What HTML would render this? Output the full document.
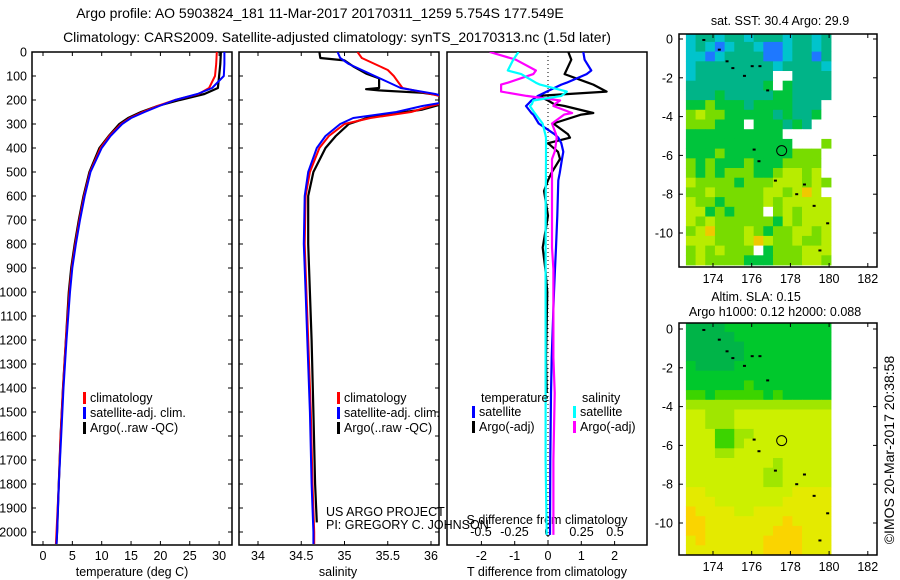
<!DOCTYPE html>
<html><head><meta charset="utf-8"><style>
body{margin:0;background:#fff;}
svg{display:block;font-family:"Liberation Sans",sans-serif;}
text{font-size:12.5px;fill:#000;}
text.big{font-size:14px;}
</style></head><body>
<svg id="fig" width="900" height="580" viewBox="0 0 900 580">
<rect width="900" height="580" fill="#fff"/>
<text class="big" x="320" y="18" text-anchor="middle">Argo profile: AO 5903824_181 11-Mar-2017 20170311_1259 5.754S 177.549E</text>
<text class="big" x="337" y="42" text-anchor="middle">Climatology: CARS2009. Satellite-adjusted climatology: synTS_20170313.nc (1.5d later)</text>
<g id="p1"></g>
<g id="p2"></g>
<g id="p3"></g>
<g id="m1"></g>
<g id="m2"></g>
<text x="780" y="25" text-anchor="middle">sat. SST: 30.4 Argo: 29.9</text>
<text x="756" y="301" text-anchor="middle">Altim. SLA: 0.15</text>
<text x="775" y="316" text-anchor="middle">Argo h1000: 0.12 h2000: 0.088</text>
<text class="big" transform="translate(894,450) rotate(-90)" text-anchor="middle">©IMOS 20-Mar-2017 20:38:58</text>
<text x="326" y="516">US ARGO PROJECT</text>
<text x="326" y="529">PI: GREGORY C. JOHNSON</text>
</svg>
<script>
// ---- data ----
const depthT=[0,50,100,150,175,200,225,250,275,300,350,400,500,600,700,800,900,1000,1200,1400,1600,1800,2000,2050];
const tClim=[29.6,29.5,29.3,28.3,26.5,22.5,19.5,17.0,14.8,13.3,11.3,9.8,8.0,7.0,6.2,5.5,4.9,4.5,3.9,3.4,3.0,2.7,2.3,2.2];
const tSat=[30.9,30.9,30.8,28.8,26.3,22.5,19.8,17.3,15.0,13.5,11.5,10.0,8.1,7.1,6.3,5.6,5.0,4.6,4.0,3.5,3.1,2.7,2.4,2.3];
const tArgo=[30.3,30.2,30.0,29.8,27.5,23.3,19.5,16.7,14.5,13.0,11.2,9.6,7.9,6.9,6.1,5.4,4.8,4.4,3.9,3.4,3.0,2.7,2.4,2.3];
const depthS=[0,25,50,75,100,125,150,175,200,225,250,275,300,350,400,500,600,800,1000,1200,1500,1800,2000,2050];
const sClim=[35.15,35.2,35.35,35.5,35.57,35.62,35.67,36.0,36.3,36.0,35.77,35.3,35.0,34.82,34.71,34.6,34.55,34.54,34.56,34.58,34.61,34.63,34.65,34.65];
const sSat=[34.92,34.95,35.05,35.2,35.35,35.5,35.65,36.05,36.3,35.9,35.6,35.1,34.95,34.78,34.68,34.58,34.54,34.53,34.55,34.57,34.6,34.62,34.64,34.64];
const depthArgoS=[0,25,35,60,90,110,150,155,160,170,190,210,240,270,300,350,400,500,600,800,1000,1200,1500,1800,1960];
const sArgo=[34.71,34.72,35.0,35.1,35.25,35.4,35.4,35.25,35.4,35.9,36.3,36.2,35.9,35.3,35.05,34.9,34.78,34.64,34.58,34.58,34.6,34.62,34.64,34.66,34.68];
const depthD=[0,32,77,92,128,136,165,183,202,217,225,254,261,298,343,357,380,416,446,505,535,579,682,815,904,1000,1273,1421,1700,2012];
const dTSat=[1.06,1.1,1.3,1.16,0.56,0.4,-0.04,-0.3,-0.5,-0.6,-0.66,-0.5,-0.44,-0.28,0.2,0.31,0.4,0.46,0.42,0.35,0.31,0.3,0.28,0.24,0.21,0.18,0.11,0.09,0.07,0.06];
const dTArgo=[0.61,0.7,0.55,0.5,1.2,1.36,1.76,-0.29,0.0,0.18,0.5,1.36,1.0,0.16,0.6,0.66,0.0,0.3,0.36,0.1,0.0,-0.12,0.0,-0.16,-0.08,-0.02,-0.06,-0.04,null,null];
const dSSat=[-0.22,-0.26,-0.3,-0.2,-0.09,-0.06,0.14,0.1,-0.11,-0.12,-0.135,-0.1,-0.09,-0.04,-0.02,-0.015,-0.015,-0.015,-0.015,-0.016,-0.016,-0.017,-0.017,-0.018,-0.018,-0.018,-0.018,-0.018,-0.018,-0.01];
const dSArgo=[-0.435,-0.24,-0.09,-0.11,-0.3,-0.35,-0.35,-0.16,0.09,0.05,0.04,0.18,0.12,0.03,0.06,0.065,0.06,0.05,0.03,0.03,0.03,0.03,0.03,0.03,0.04,0.04,0.04,0.05,0.04,0.04];
const tTicks=[0,5,10,15,20,25,30];
const sTicks=[34,34.5,35,35.5,36];
const dTTicks=[-2,-1,0,1,2];
const dSTicks=[-0.5,-0.25,0,0.25,0.5];
const depthTicks=[0,100,200,300,400,500,600,700,800,900,1000,1100,1200,1300,1400,1500,1600,1700,1800,1900,2000];
const lonTicks=[174,176,178,180,182];
const latTicks=[0,-2,-4,-6,-8,-10];
const sstGrid=[
"cttcttctttcttct","ctcbcttcbbcttct","ccbcttttbbcttbt","cttttttttcttttc","cttttttttwwtttt",
"ttttttttgwgtttt","tttgtttttggtttt","gglgggtggggtttw","lyllgggggtgttgw","lllgggwgggtgtww",
"ggggggggggwwwww","gggggggggggwwwl","ggglggggggglllw","lglggglgggllllw","lglglllgglyylyw",
"yllllglllyyylyl","llylllllyylyoyw","yllgllllylyyyyy","yyglglllwlylyyy","ylyllllllgylyyy",
"lyolllylgllyyly","yyylllyoyllylly","lylylllwglllyyy","lyllllggglllyyl"];
const slaGrid=[
"DDDDGGGGGGGGGGG","DDDDDGGGGGGGGGG","DDDDDDGGGGGGGGG","DDDDDDGGGGGGGGG","GDDDDGGGGGGGGGG",
"GGGGGGGGGGGGGGG","GGGGGGHGGGGGGGG","HHGHHHHHGHGGGGG","LLLLLLLLLLLLLLL","YYLLLYYYYYYYYYY",
"YYLLLYYYYYYYYYY","YYYHHLLYYYYYYYY","YYYHHLYYYYYYYYY","YYYLLYYYYYYYYYY","YYYYYYYYYLYYYYY",
"YYYYYYYYLLYYYYY","YYYYYYYYLLYYYYY","ZZYYYYYYYYYZZZZ","ZZZYYYYYYYZZZZZ","OZZZZYYZZZZZZZZ",
"OOZZZZZZZZOZZZZ","OOZZZZZZZOOOZZZ","ZOZZZZZZOOOOZZZ","ZZZZZZZZOOOOZZZ"];
const floatLon=177.549, floatLat=-5.754;
const trackLon=[173.5,174.3,174.7,175.0,175.6,176.0,176.4,176.8,176.1,176.35,177.2,178.3,178.7,179.2,179.9,179.5];
const trackLat=[-0.05,-0.55,-1.15,-1.5,-1.9,-1.4,-1.4,-2.65,-5.7,-6.3,-7.3,-8.0,-7.5,-8.6,-9.5,-10.9];
const pal={b:"#1e78ff",c:"#00c4cc",t:"#00b488",g:"#00c43c",l:"#78dc00",y:"#b8ec00",o:"#f0c800",w:"#ffffff",
 D:"#00b448",G:"#00c82c",H:"#3cd400",L:"#a0e600",Y:"#ccf000",Z:"#e4ea00",O:"#fad400"};

// ---- helpers ----
const NS="http://www.w3.org/2000/svg";
function mk(tag,attrs,parent){const e=document.createElementNS(NS,tag);for(const k in attrs)e.setAttribute(k,attrs[k]);parent.appendChild(e);return e;}
const Y0=52, PXD=0.24;
const yD=d=>Y0+d*PXD;
function panel(g,x0,x1,name){
  const r=mk('rect',{x:x0,y:52,width:x1-x0,height:493,fill:'none',stroke:'#000','stroke-width':1.5},g);
  
  
}
function line(g,xs,ds,fx,color,w,name){
  let p='';let pen=false;
  for(let i=0;i<ds.length;i++){const v=xs[i];if(v===null||v===undefined){pen=false;continue;}
    p+=(pen?'L':'M')+fx(v).toFixed(1)+','+yD(ds[i]).toFixed(1);pen=true;}
  const e=mk('path',{d:p,fill:'none',stroke:color,'stroke-width':w,'stroke-linejoin':'round'},g);
  
  
}
function txt(g,x,y,s,anchor,name){const t=mk('text',{x:x,y:y,'text-anchor':anchor||'start'},g);t.textContent=s;
  
  
  return t;}
function xticks(g,vals,fx,yl,name){
  vals.forEach(v=>{const x=fx(v);
    mk('line',{x1:x,y1:52,x2:x,y2:56,stroke:'#000'},g);
    mk('line',{x1:x,y1:545,x2:x,y2:541,stroke:'#000'},g);
    txt(g,x,yl,String(v),'middle',name);});
}
function legend(g,x,y,items){
  items.forEach((it,i)=>{
    const b=mk('rect',{x:x,y:y+i*15-10,width:3,height:12,fill:it[0]},g);
    
    
    txt(g,x+7,y+i*15,it[1],'start','legend-entry');
  });
}

// ---- panel 1: temperature ----
const p1=document.getElementById('p1');
const xT=t=>43+5.87*t;
panel(p1,32,232,'temperature-panel');
depthTicks.forEach(d=>{const y=yD(d);
  mk('line',{x1:32,y1:y,x2:36,y2:y,stroke:'#000'},p1);
  mk('line',{x1:232,y1:y,x2:228,y2:y,stroke:'#000'},p1);
  txt(p1,27,y+4.5,String(d),'end','depth-tick-label');});
xticks(p1,tTicks,xT,560,'temperature-tick-label');
txt(p1,132,576,'temperature (deg C)','middle','temperature-axis-title');
line(p1,tArgo,depthT,xT,'#000',2.2,'temp-argo-line');
line(p1,tClim,depthT,xT,'#f00',2,'temp-climatology-line');
line(p1,tSat,depthT,xT,'#00f',2,'temp-satellite-line');
legend(p1,83,402,[['#f00','climatology'],['#00f','satellite-adj. clim.'],['#000','Argo(..raw -QC)']]);

// ---- panel 2: salinity ----
const p2=document.getElementById('p2');
const xS=s=>258+86.5*(s-34);
panel(p2,239,439,'salinity-panel');
depthTicks.forEach(d=>{const y=yD(d);
  mk('line',{x1:239,y1:y,x2:243,y2:y,stroke:'#000'},p2);
  mk('line',{x1:439,y1:y,x2:435,y2:y,stroke:'#000'},p2);});
xticks(p2,sTicks,xS,560,'salinity-tick-label');
txt(p2,338,576,'salinity','middle','salinity-axis-title');
const clipS=mk('clipPath',{id:'cs'},p2);mk('rect',{x:239,y:52,width:200,height:493},clipS);
const g2=mk('g',{'clip-path':'url(#cs)'},p2);
line(g2,sArgo,depthArgoS,xS,'#000',2.2,'sal-argo-line');
line(g2,sClim,depthS,xS,'#f00',2,'sal-climatology-line');
line(g2,sSat,depthS,xS,'#00f',2,'sal-satellite-line');
legend(p2,337,402,[['#f00','climatology'],['#00f','satellite-adj. clim.'],['#000','Argo(..raw -QC)']]);

// ---- panel 3: differences ----
const p3=document.getElementById('p3');
const xDT=v=>548+33.3*v;
const xDS=v=>548+134*v;
panel(p3,447,647,'difference-panel');
mk('line',{x1:548,y1:52,x2:548,y2:545,stroke:'#000','stroke-dasharray':'1,3'},p3);
dTTicks.forEach(v=>{const x=xDT(v);
  mk('line',{x1:x,y1:545,x2:x,y2:541,stroke:'#000'},p3);
  txt(p3,x,560,String(v),'middle','t-diff-tick-label');});
dSTicks.forEach(v=>{txt(p3,xDS(v),536,String(v),'middle','s-diff-tick-label');});
txt(p3,547,524,'S difference from climatology','middle','s-diff-axis-title');
txt(p3,547,576,'T difference from climatology','middle','t-diff-axis-title');
const clip3=mk('clipPath',{id:'c3'},p3);mk('rect',{x:447,y:52,width:200,height:493},clip3);
const g3=mk('g',{'clip-path':'url(#c3)'},p3);
line(g3,dTArgo,depthD,xDT,'#000',2.2,'t-diff-argo-line');
line(g3,dTSat,depthD,xDT,'#00f',2.2,'t-diff-satellite-line');
line(g3,dSArgo,depthD,xDS,'#f0f',2.2,'s-diff-argo-line');
line(g3,dSSat,depthD,xDS,'#0ff',2.2,'s-diff-satellite-line');
txt(p3,481,402,'temperature','start','legend-temperature-heading');
txt(p3,582,402,'salinity','start','legend-salinity-heading');
legend(p3,472,416,[['#00f','satellite'],['#000','Argo(-adj)']]);
legend(p3,573,416,[['#0ff','satellite'],['#f0f','Argo(-adj)']]);

// ---- maps ----
function drawMap(g,grid,top,bottom,lat0y,name){
  const xL=lon=>713+19.35*(lon-174);
  const yL=lat=>lat0y-19.4*lat;
  const cw=19.35*0.5, ch=19.4*0.5;
  grid.forEach((row,j)=>{
    for(let i=0;i<row.length;i++){
      const lon=172.6+0.5*i, lat=0.35-0.5*j;
      const r=mk('rect',{x:xL(lon).toFixed(2),y:yL(lat).toFixed(2),width:cw+0.4,height:ch+0.4,fill:pal[row[i]]},g);
      
      
    }});
  mk('rect',{x:660,y:top-15,width:20,height:bottom-top+30,fill:'#fff'},g);
  mk('rect',{x:679,y:bottom,width:200,height:12,fill:'#fff'},g);
  mk('rect',{x:679,y:top-12,width:200,height:12,fill:'#fff'},g);
  trackLon.forEach((lon,k)=>{
    const d=mk('rect',{x:xL(lon)-1,y:yL(trackLat[k])-1,width:3,height:2,fill:'#000'},g);
    
    });
  const c=mk('circle',{cx:xL(floatLon),cy:yL(floatLat),r:5,fill:'none',stroke:'#000','stroke-width':1},g);
  
  
  const f=mk('rect',{x:679,y:top,width:198,height:bottom-top,fill:'none',stroke:'#000','stroke-width':1.5},g);
  
  
  lonTicks.forEach(v=>{const x=xL(v);
    mk('line',{x1:x,y1:top,x2:x,y2:top+4,stroke:'#000'},g);
    mk('line',{x1:x,y1:bottom,x2:x,y2:bottom-4,stroke:'#000'},g);
    txt(g,x,bottom+16,String(v),'middle','lon-tick-label');});
  latTicks.forEach(v=>{const y=yL(v);
    mk('line',{x1:679,y1:y,x2:683,y2:y,stroke:'#000'},g);
    mk('line',{x1:877,y1:y,x2:873,y2:y,stroke:'#000'},g);
    txt(g,673,y+4.5,String(v),'end','lat-tick-label');});
}
drawMap(document.getElementById('m1'),sstGrid,34,267,39,'sst-map');
drawMap(document.getElementById('m2'),slaGrid,323,555,329,'sla-map');
</script>
</body></html>
